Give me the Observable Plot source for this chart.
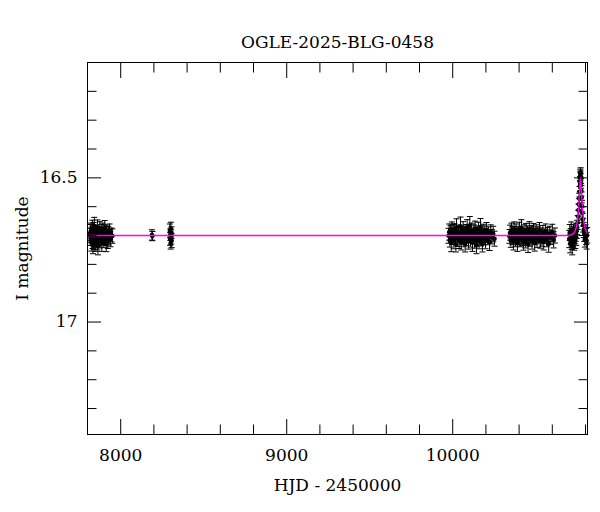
<!DOCTYPE html>
<html><head><meta charset="utf-8">
<script src="https://cdn.jsdelivr.net/npm/d3@7"></script>
<script src="https://cdn.jsdelivr.net/npm/@observablehq/plot@0.6"></script>
<style>body{margin:0;background:#fff}</style>
</head><body><div id="chart"></div>
<script>
const title = "OGLE-2025-BLG-0458";
const xLabel = "HJD - 2450000";
const yLabel = "I magnitude";
const xMajor = [8000, 9000, 10000];
const xMinor = [7800, 8200, 8400, 8600, 8800, 9200, 9400, 9600, 9800, 10200, 10400, 10600, 10800];
const yMajor = [16.5, 17];
const yMinor = [16.2, 16.3, 16.4, 16.6, 16.7, 16.8, 16.9, 17.1, 17.2, 17.3];

// observations: [HJD - 2450000, I mag, error]
const season2017 = [[7815,16.700,.025],[7817,16.690,.028],[7819,16.712,.022],[7821,16.683,.026],[7823,16.724,.030],[7825,16.695,.024],[7827,16.708,.027],[7829,16.672,.025],[7831,16.716,.029],[7833,16.733,.030],[7835,16.698,.023],[7837,16.681,.026],[7839,16.720,.028],[7841,16.667,.030],[7843,16.703,.024],[7846,16.728,.027],[7848,16.690,.025],[7850,16.712,.029],[7853,16.686,.022],[7855,16.705,.026],[7858,16.722,.028],[7860,16.677,.031],[7863,16.737,.030],[7866,16.694,.025],[7868,16.710,.024],[7871,16.699,.027],[7874,16.680,.028],[7877,16.718,.025],[7880,16.702,.023],[7883,16.688,.026],[7886,16.726,.029],[7889,16.707,.024],[7892,16.684,.027],[7895,16.697,.025],[7898,16.715,.026],[7901,16.691,.028],[7904,16.673,.025],[7907,16.711,.024],[7910,16.700,.026],[7913,16.729,.027],[7916,16.687,.023],[7919,16.704,.025],[7922,16.719,.026],[7925,16.693,.024],[7929,16.706,.027],[7933,16.685,.025],[7938,16.713,.026],[7944,16.698,.024],[7950,16.702,.025]];
const season2018 = [[8188,16.698,.018],[8191,16.702,.016],[8296,16.684,.024],[8298,16.712,.022],[8299,16.697,.020],[8301,16.726,.021],[8302,16.676,.022],[8304,16.705,.025],[8306,16.690,.020],[8307,16.718,.024]];
const season2023 = [[9975,16.701,.026],[9979,16.688,.028],[9983,16.715,.025],[9987,16.693,.027],[9991,16.726,.030],[9995,16.679,.026],[9999,16.707,.024],[10003,16.690,.028],[10007,16.719,.027],[10011,16.684,.025],[10015,16.702,.029],[10019,16.731,.026],[10023,16.672,.030],[10027,16.696,.025],[10031,16.711,.027],[10035,16.688,.024],[10039,16.717,.028],[10043,16.699,.026],[10047,16.668,.032],[10051,16.723,.027],[10055,16.692,.025],[10059,16.706,.026],[10063,16.680,.028],[10067,16.714,.025],[10071,16.697,.027],[10075,16.728,.029],[10079,16.686,.024],[10083,16.709,.026],[10087,16.675,.030],[10091,16.701,.025],[10095,16.720,.027],[10099,16.691,.026],[10103,16.665,.031],[10107,16.712,.028],[10111,16.699,.025],[10115,16.684,.027],[10119,16.725,.030],[10123,16.704,.024],[10127,16.689,.026],[10131,16.716,.028],[10135,16.677,.027],[10139,16.700,.025],[10143,16.734,.029],[10147,16.693,.026],[10151,16.708,.025],[10155,16.682,.028],[10159,16.719,.027],[10163,16.696,.024],[10167,16.671,.030],[10171,16.710,.026],[10175,16.702,.025],[10179,16.729,.028],[10183,16.687,.026],[10188,16.705,.027],[10193,16.692,.025],[10198,16.718,.028],[10204,16.681,.026],[10210,16.707,.025],[10216,16.697,.027],[10222,16.723,.029],[10229,16.689,.026],[10236,16.704,.025],[10244,16.695,.027],[10252,16.711,.026]];
const season2024 = [[10342,16.703,.024],[10346,16.690,.026],[10350,16.716,.025],[10354,16.684,.027],[10358,16.708,.024],[10362,16.695,.026],[10366,16.722,.028],[10370,16.678,.025],[10374,16.701,.024],[10378,16.713,.026],[10382,16.687,.027],[10386,16.699,.025],[10390,16.727,.028],[10394,16.692,.024],[10398,16.706,.026],[10402,16.681,.027],[10406,16.714,.025],[10410,16.697,.024],[10414,16.673,.028],[10418,16.709,.026],[10422,16.702,.025],[10426,16.724,.027],[10430,16.688,.025],[10434,16.700,.024],[10438,16.717,.026],[10442,16.685,.027],[10446,16.705,.025],[10450,16.693,.026],[10454,16.731,.028],[10458,16.698,.025],[10462,16.679,.027],[10466,16.711,.026],[10470,16.702,.024],[10474,16.690,.025],[10478,16.720,.027],[10482,16.696,.026],[10486,16.683,.025],[10490,16.708,.024],[10494,16.726,.028],[10498,16.700,.025],[10503,16.689,.026],[10508,16.714,.027],[10513,16.695,.025],[10518,16.705,.024],[10523,16.682,.027],[10528,16.718,.026],[10533,16.699,.025],[10538,16.710,.027],[10543,16.691,.026],[10548,16.722,.028],[10554,16.703,.025],[10560,16.686,.026],[10566,16.712,.027],[10572,16.697,.025],[10578,16.729,.029],[10585,16.694,.026],[10592,16.706,.025],[10600,16.688,.027],[10608,16.715,.028],[10616,16.700,.026]];
const season2025 = [[10702,16.712,.030],[10705,16.690,.028],[10708,16.728,.032],[10711,16.703,.027],[10714,16.683,.030],[10717,16.719,.029],[10720,16.736,.031],[10723,16.698,.028],[10726,16.710,.030],[10729,16.688,.027],[10732,16.722,.029],[10735,16.700,.028],[10738,16.715,.030],[10741,16.693,.027],[10744,16.706,.028],[10747,16.684,.026],[10750,16.672,.025],[10753,16.655,.024],[10756,16.634,.022],[10758,16.612,.021],[10760,16.592,.020],[10762,16.572,.019],[10764,16.548,.018],[10766,16.528,.018],[10767,16.512,.017],[10768,16.497,.017],[10769,16.486,.016],[10770,16.492,.016],[10771,16.481,.016],[10772,16.503,.017],[10773,16.519,.017],[10775,16.545,.018],[10777,16.568,.019],[10779,16.598,.020],[10781,16.622,.021],[10783,16.645,.022],[10786,16.664,.024],[10789,16.681,.026],[10792,16.694,.027],[10796,16.712,.028],[10800,16.690,.027],[10804,16.703,.028],[10807,16.718,.029],[10810,16.699,.027]];

// point-lens model curve
const modelT   = [7800, 10700, 10710, 10728, 10738, 10745, 10750, 10754, 10758, 10761, 10764, 10766, 10768, 10770, 10772, 10774, 10776, 10779, 10782, 10786, 10790, 10795, 10802, 10812];
const modelMag = [16.700, 16.700, 16.698, 16.693, 16.684, 16.670, 16.652, 16.630, 16.603, 16.580, 16.555, 16.532, 16.510, 16.500, 16.510, 16.532, 16.555, 16.580, 16.603, 16.630, 16.652, 16.670, 16.684, 16.693];

const obs = [...season2017, ...season2018, ...season2023, ...season2024, ...season2025]
  .map(([t, m, e]) => ({t, m, e}));
const model = modelT.map((t, i) => ({t, m: modelMag[i]}));

const capSymbol = {draw(ctx, size) { const r = Math.sqrt(size / Math.PI); ctx.moveTo(-r, 0); ctx.lineTo(r, 0); }};
const FS = 17;
const blank = () => "";

const chart = Plot.plot({
  width: 600, height: 512,
  marginLeft: 87, marginRight: 13, marginTop: 62, marginBottom: 78,
  x: {domain: [7800, 10812]},
  y: {domain: [16.1, 17.39], reverse: true},
  style: {fontFamily: "'DejaVu Serif', serif", background: "white", color: "black"},
  marks: [
    Plot.ruleX(obs, {x: "t", y1: d => d.m - d.e, y2: d => d.m + d.e, stroke: "black", strokeWidth: 1}),
    Plot.dot(obs, {x: "t", y: d => d.m - d.e, symbol: capSymbol, r: 3, stroke: "black", strokeWidth: 1}),
    Plot.dot(obs, {x: "t", y: d => d.m + d.e, symbol: capSymbol, r: 3, stroke: "black", strokeWidth: 1}),
    Plot.dot(obs, {x: "t", y: "m", r: 2.3, fill: "black"}),
    Plot.line(model, {x: "t", y: "m", stroke: "#ff00ff", strokeWidth: 1.4}),
    Plot.frame({stroke: "black", strokeWidth: 1}),
    // tick marks (inward) on all four sides
    Plot.axisX(xMajor, {anchor: "bottom", tickSize: -15, tickFormat: blank, label: null}),
    Plot.axisX(xMinor, {anchor: "bottom", tickSize: -9.5, tickFormat: blank, label: null}),
    Plot.axisX(xMajor, {anchor: "top", tickSize: -15, tickFormat: blank, label: null}),
    Plot.axisX(xMinor, {anchor: "top", tickSize: -9.5, tickFormat: blank, label: null}),
    Plot.axisY(yMajor, {anchor: "left", tickSize: -14, tickFormat: blank, label: null}),
    Plot.axisY(yMinor, {anchor: "left", tickSize: -9.5, tickFormat: blank, label: null}),
    Plot.axisY(yMajor, {anchor: "right", tickSize: -14, tickFormat: blank, label: null}),
    Plot.axisY(yMinor, {anchor: "right", tickSize: -9.5, tickFormat: blank, label: null}),
    // tick labels
    Plot.axisX(xMajor, {anchor: "bottom", tickSize: 0, tickPadding: 14, fontSize: FS, tickFormat: d => String(d), label: null}),
    Plot.axisY(yMajor, {anchor: "left", tickSize: 0, tickPadding: 10, fontSize: FS, tickFormat: d => String(d), label: null}),
    // titles
    Plot.text([title], {text: d => d, frameAnchor: "top", dy: -27, fontSize: FS, fill: "black"}),
    Plot.text([xLabel], {text: d => d, frameAnchor: "bottom", dy: 56, fontSize: FS, fill: "black"}),
    Plot.text([yLabel], {text: d => d, frameAnchor: "left", textAnchor: "middle", dx: -65, rotate: -90, fontSize: FS, fill: "black"})
  ]
});
document.getElementById("chart").append(chart);
</script>
</body></html>
